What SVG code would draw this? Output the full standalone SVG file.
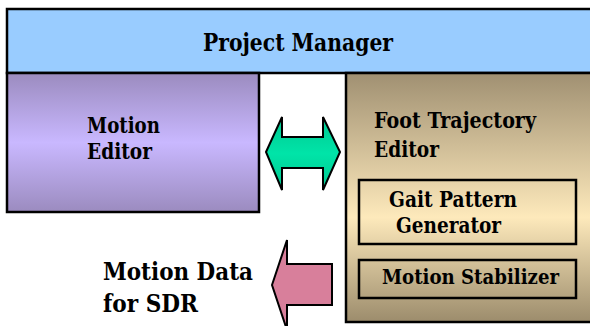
<svg xmlns="http://www.w3.org/2000/svg" width="590" height="326" viewBox="0 0 590 326">
<defs>
<linearGradient id="gPurple" x1="0" y1="0" x2="0" y2="1">
<stop offset="0" stop-color="#9b8bbf"/>
<stop offset="0.5" stop-color="#c9b8ff"/>
<stop offset="1" stop-color="#9b8bbf"/>
</linearGradient>
<linearGradient id="gTan" x1="0" y1="0" x2="0" y2="1">
<stop offset="0" stop-color="#a09072"/>
<stop offset="0.58" stop-color="#fde9bb"/>
<stop offset="1" stop-color="#9c8c6c"/>
</linearGradient>
<linearGradient id="gGreen" x1="0" y1="0" x2="0" y2="1">
<stop offset="0" stop-color="#00c890"/>
<stop offset="0.5" stop-color="#00e4a8"/>
<stop offset="1" stop-color="#00c890"/>
</linearGradient>
<style>
.box{stroke:#000;stroke-width:2.5}
.arrow{stroke:#000;stroke-width:2;stroke-linejoin:miter}
text{font-family:'DejaVu Serif',serif;font-weight:bold;font-size:22px;fill:#000}
.big{font-size:25px}
.small{font-size:21px}
</style>
</defs>
<rect width="590" height="326" fill="#fff"/>
<g id="project-manager">
<rect class="box" x="7" y="9" width="590" height="64" fill="#99ccff"/>
<text class="big" x="203" y="51" textLength="190" lengthAdjust="spacingAndGlyphs">Project Manager</text>
</g>
<g id="motion-editor">
<rect class="box" x="7" y="73" width="252" height="139" fill="url(#gPurple)"/>
<text x="87" y="133" textLength="73" lengthAdjust="spacingAndGlyphs">Motion</text>
<text x="87" y="159" textLength="65" lengthAdjust="spacingAndGlyphs">Editor</text>
</g>
<g id="foot-trajectory-editor">
<rect class="box" x="346" y="73" width="250" height="249" fill="url(#gTan)"/>
<text x="374" y="128" textLength="162" lengthAdjust="spacingAndGlyphs">Foot Trajectory</text>
<text x="374" y="157" textLength="65" lengthAdjust="spacingAndGlyphs">Editor</text>
</g>
<g id="gait-pattern-generator">
<rect class="box" x="359" y="180" width="217" height="64" fill="none"/>
<text x="389" y="207" textLength="128" lengthAdjust="spacingAndGlyphs">Gait Pattern</text>
<text x="396" y="233" textLength="105" lengthAdjust="spacingAndGlyphs">Generator</text>
</g>
<g id="motion-stabilizer">
<rect class="box" x="359" y="260" width="217" height="38" fill="none"/>
<text class="small" x="382" y="284" textLength="177" lengthAdjust="spacingAndGlyphs">Motion Stabilizer</text>
</g>
<g id="connectors">
<polygon class="arrow" fill="url(#gGreen)" points="266,152 282,117 282,137 323,137 323,117 340,152 323,190 323,168 282,168 282,190"/>
<polygon class="arrow" fill="#d87f9b" points="272,285 287,240 287,264 332,264 332,305 287,305 287,330"/>
</g>
<g id="motion-data-label">
<text class="big" x="103" y="280" textLength="150" lengthAdjust="spacingAndGlyphs">Motion Data</text>
<text class="big" x="103" y="312" textLength="95" lengthAdjust="spacingAndGlyphs">for SDR</text>
</g>
</svg>
